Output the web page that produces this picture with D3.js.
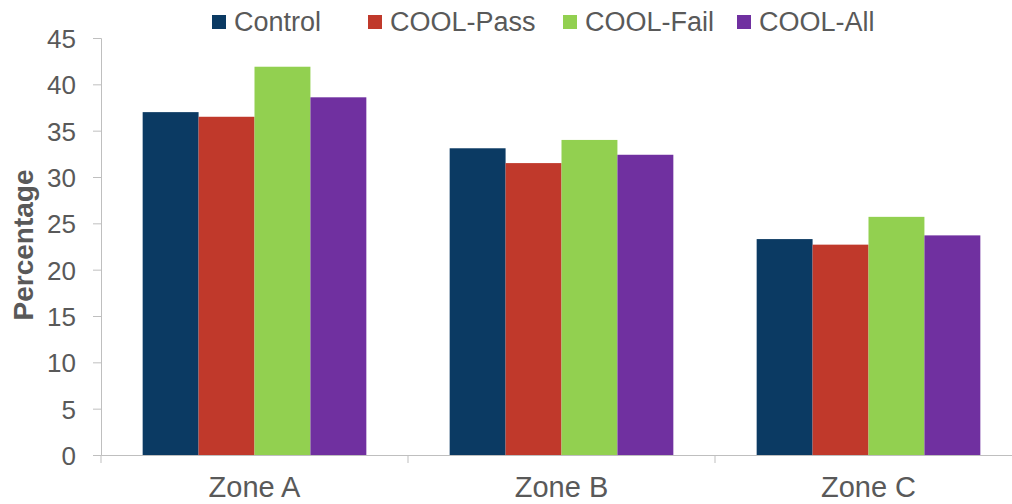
<!DOCTYPE html>
<html>
<head>
<meta charset="utf-8">
<script src="https://cdn.jsdelivr.net/npm/d3@7"></script>
<style>
  body { margin: 0; background: #fff; }
  svg { font-family: "Liberation Sans", Arial, sans-serif; }
</style>
</head>
<body>
<svg width="1012" height="504"></svg>
<script>
var zones = ["Zone A", "Zone B", "Zone C"];
var seriesNames = ["Control", "COOL-Pass", "COOL-Fail", "COOL-All"];
var seriesColors = ["#0b3a63", "#c0392b", "#92d050", "#7030a0"];
var control = [37.0, 33.1, 23.3];
var coolPass = [36.5, 31.5, 22.7];
var coolFail = [41.9, 34.0, 25.7];
var coolAll = [38.6, 32.4, 23.7];
var yTicks = [0, 5, 10, 15, 20, 25, 30, 35, 40, 45];

var values = [control, coolPass, coolFail, coolAll];
var data = zones.map(function(z, i) {
  return { zone: z, vals: seriesNames.map(function(s, j) { return { key: s, value: values[j][i] }; }) };
});

var svg = d3.select("svg"),
  margin = {top: 38, right: -10, bottom: 49, left: 101},
  width = +svg.attr("width") - margin.left - margin.right,
  height = +svg.attr("height") - margin.top - margin.bottom;

var x0 = d3.scaleBand().domain(zones).range([0, width]).padding(0);
var x1 = d3.scaleBand().domain(seriesNames).range([0, x0.bandwidth()]).paddingInner(0).paddingOuter(0.745);
var y = d3.scaleLinear().domain([0, 45]).range([height, 0]);
var color = d3.scaleOrdinal().domain(seriesNames).range(seriesColors);

var g = svg.append("g")
  .attr("transform", "translate(" + margin.left + "," + margin.top + ")");

// bars
g.selectAll(".zone")
  .data(data)
  .enter().append("g")
  .attr("class", "zone")
  .attr("transform", function(d) { return "translate(" + x0(d.zone) + ",0)"; })
  .selectAll("rect")
  .data(function(d) { return d.vals; })
  .enter().append("rect")
  .attr("x", function(d) { return x1(d.key); })
  .attr("y", function(d) { return y(d.value); })
  .attr("width", x1.bandwidth())
  .attr("height", function(d) { return height - y(d.value); })
  .attr("fill", function(d) { return color(d.key); });

// y axis
var yAxis = g.append("g")
  .attr("class", "axis axis--y")
  .call(d3.axisLeft(y).tickValues(yTicks).tickSize(8).tickPadding(17));
yAxis.select(".domain").attr("stroke", "#bfbfbf");
yAxis.selectAll(".tick line").attr("stroke", "#bfbfbf");
yAxis.selectAll(".tick text")
  .attr("fill", "#595959")
  .style("font-size", "26px")
  .attr("dy", "0.36em");

// x axis
var xAxis = g.append("g")
  .attr("class", "axis axis--x")
  .attr("transform", "translate(0," + height + ")")
  .call(d3.axisBottom(x0).tickSize(0).tickPadding(21));
xAxis.select(".domain").attr("stroke", "#bfbfbf");
xAxis.selectAll(".tick text")
  .attr("fill", "#595959")
  .style("font-size", "29px");
// boundary tick marks between categories
xAxis.selectAll(".sep")
  .data(zones)
  .enter().append("line")
  .attr("class", "sep")
  .attr("x1", function(d) { return x0(d); })
  .attr("x2", function(d) { return x0(d); })
  .attr("y1", 0)
  .attr("y2", 8)
  .attr("stroke", "#bfbfbf");

// y axis title
svg.append("text")
  .attr("transform", "translate(33,245)rotate(-90)")
  .attr("text-anchor", "middle")
  .attr("fill", "#595959")
  .style("font-size", "28px")
  .style("font-weight", "bold")
  .text("Percentage");

// legend
var legendX = [212, 368, 563, 737];
var legend = svg.append("g").attr("class", "legend");
var items = legend.selectAll("g")
  .data(seriesNames)
  .enter().append("g")
  .attr("transform", function(d, i) { return "translate(" + legendX[i] + ",15)"; });
items.append("rect")
  .attr("width", 14)
  .attr("height", 14)
  .attr("fill", function(d) { return color(d); });
items.append("text")
  .attr("x", 22)
  .attr("y", 16)
  .attr("fill", "#595959")
  .style("font-size", "27px")
  .text(function(d) { return d; });
</script>
</body>
</html>
